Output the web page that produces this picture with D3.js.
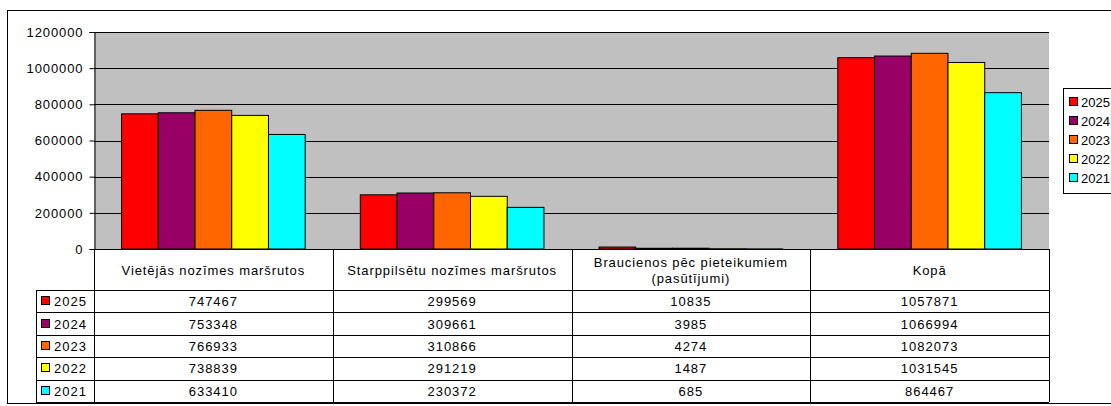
<!DOCTYPE html>
<html><head><meta charset="utf-8">
<script src="https://cdn.jsdelivr.net/npm/d3@7"></script>
<style>body{margin:0;background:#fff}svg{display:block;font-family:"Liberation Sans",Arial,sans-serif}</style>
</head><body><svg id="c" width="1111" height="406"></svg>
<script>
const categories = [["Vietējās nozīmes maršrutos"],["Starppilsētu nozīmes maršrutos"],["Braucienos pēc pieteikumiem","(pasūtījumi)"],["Kopā"]];
const years = ["2025","2024","2023","2022","2021"];
const colors = ["#FF0000","#990066","#FF6600","#FFFF00","#00FFFF"];
const v2025 = [747467,299569,10835,1057871];
const v2024 = [753348,309661,3985,1066994];
const v2023 = [766933,310866,4274,1082073];
const v2022 = [738839,291219,1487,1031545];
const v2021 = [633410,230372,685,864467];
const yTicks = [0,200000,400000,600000,800000,1000000,1200000];
const series = [v2025,v2024,v2023,v2022,v2021];

const svg = d3.select("#c");
const L=94,R=1049,T=32,B=249;
// outer frame
svg.append("rect").attr("x",7.5).attr("y",10.5).attr("width",1130).attr("height",393).attr("fill","#fff").attr("stroke","#000");
const y = d3.scaleLinear().domain([0,1200000]).range([B,T]);
const x = d3.scaleBand().domain(d3.range(categories.length)).range([L,R]).padding(0);
const bw = x.bandwidth()/6.5;
const xi = d3.scaleBand().domain(d3.range(years.length)).range([bw*0.75, bw*5.75]).padding(0);
svg.append("rect").attr("x",L).attr("y",T).attr("width",R-L).attr("height",B-T).attr("fill","#C0C0C0");
// gridlines
svg.selectAll(".g").data(yTicks.slice(1)).enter().append("line")
 .attr("x1",L).attr("x2",R).attr("y1",d=>Math.round(y(d))+0.5).attr("y2",d=>Math.round(y(d))+0.5).attr("stroke","#000").attr("stroke-width",1);
// bars
series.forEach((s,si)=>{
  svg.append("g").selectAll("rect").data(s).enter().append("rect")
   .attr("x",(d,i)=>x(i)+xi(si)).attr("width",xi.bandwidth())
   .attr("y",d=>y(d)).attr("height",d=>B-y(d))
   .attr("fill",colors[si]).attr("stroke","#000").attr("stroke-width",1);
});
// y axis
const ax = svg.append("g").attr("transform",`translate(${L+0.5},0)`)
 .call(d3.axisLeft(y).tickValues(yTicks).tickFormat(d3.format("d")).tickSize(5).tickPadding(6));
ax.select(".domain").attr("stroke","#000");
ax.selectAll("text").attr("font-size",13).attr("letter-spacing",0.9).attr("fill","#000").attr("font-family","'Liberation Sans',Arial,sans-serif");
svg.append("line").attr("x1",L).attr("x2",R).attr("y1",B+0.5).attr("y2",B+0.5).attr("stroke","#000");
// table
const rowTop=290, rowH=22.4, tabBottom=rowTop+rowH*5;
const tg = svg.append("g").attr("stroke","#000").attr("stroke-width",1);
[L,R].concat(d3.range(1,categories.length).map(i=>x(i))).forEach(xx=>{
  tg.append("line").attr("x1",Math.round(xx)+0.5).attr("x2",Math.round(xx)+0.5).attr("y1",B).attr("y2",tabBottom);
});
tg.append("line").attr("x1",36.5).attr("x2",36.5).attr("y1",rowTop).attr("y2",tabBottom);
d3.range(6).forEach(r=>{
  const yy=Math.round(rowTop+r*rowH)+0.5;
  tg.append("line").attr("x1",36).attr("x2",R).attr("y1",yy).attr("y2",yy);
});
// headers
categories.forEach((c,i)=>{
  const cx=x(i)+x.bandwidth()/2;
  const t=svg.append("text").attr("x",cx).attr("text-anchor","middle").attr("font-size",13).attr("letter-spacing",0.9);
  const y0 = c.length===1?275:267;
  c.forEach((line,li)=>t.append("tspan").attr("x",cx).attr("y",y0+li*16).text(line));
});
// rows
series.forEach((s,si)=>{
  const cy=rowTop+si*rowH+rowH/2;
  svg.append("rect").attr("x",41.5).attr("y",Math.round(cy)-4.5).attr("width",8).attr("height",8).attr("fill",colors[si]).attr("stroke","#000");
  svg.append("text").attr("x",54).attr("y",cy+5).attr("font-size",13).attr("letter-spacing",1).text(years[si]);
  s.forEach((v,i)=>{
    svg.append("text").attr("x",x(i)+x.bandwidth()/2).attr("y",cy+5).attr("text-anchor","middle").attr("font-size",13).attr("letter-spacing",1).text(v);
  });
});
// legend
svg.append("rect").attr("x",1063.5).attr("y",88.5).attr("width",70).attr("height",105).attr("fill","#fff").attr("stroke","#000");
years.forEach((yr,i)=>{
  const cy=102+i*19;
  svg.append("rect").attr("x",1069.5).attr("y",cy-4.5).attr("width",8).attr("height",8).attr("fill",colors[i]).attr("stroke","#000");
  svg.append("text").attr("x",1081).attr("y",cy+5).attr("font-size",13).attr("letter-spacing",0).text(yr);
});
</script></body></html>
